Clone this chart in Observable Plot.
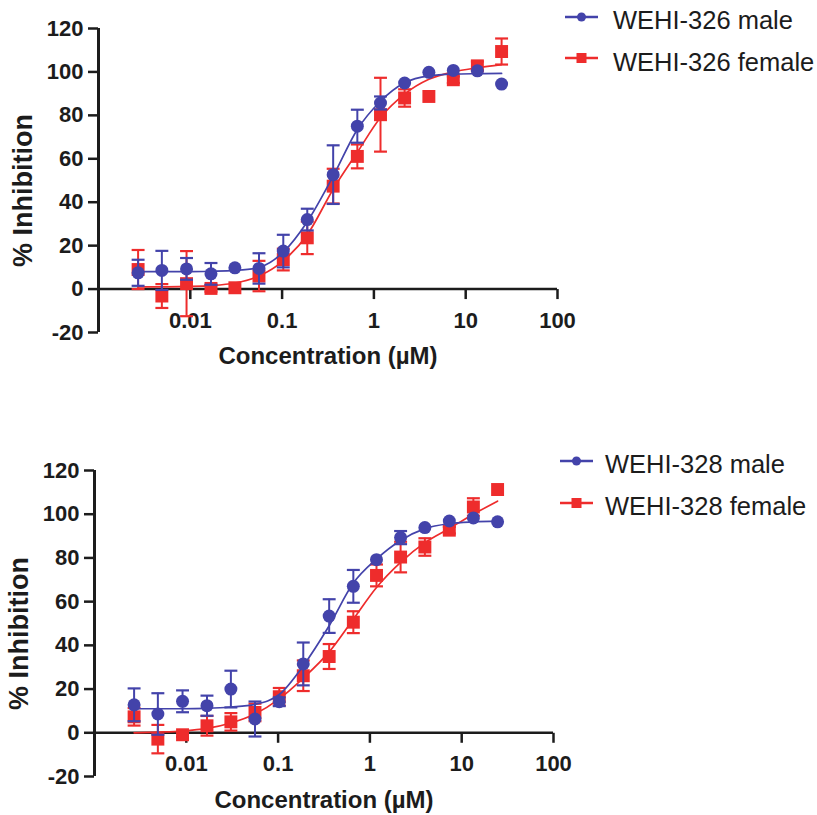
<!DOCTYPE html>
<html>
<head>
<meta charset="utf-8">
<script src="https://cdn.jsdelivr.net/npm/d3@7"></script>
<script src="https://cdn.jsdelivr.net/npm/@observablehq/plot@0.6"></script>
<style>
  body { margin: 0; background: #ffffff; }
  #root { position: relative; width: 817px; height: 815px; font-family: "Liberation Sans", Arial, sans-serif; color: #1c1c1c; }
  .chart { position: absolute; left: 0; }
  .leg { position: absolute; font-size: 25.5px; line-height: 26px; white-space: nowrap; color: #1c1c1c; }
  .sw { position: absolute; }
</style>
</head>
<body>
<div id="root"></div>
<script>
// ---- data ----
const conc = [0.0027, 0.0049, 0.0091, 0.0168, 0.0306, 0.056, 0.103, 0.188, 0.36, 0.66, 1.18, 2.16, 3.97, 7.33, 13.4, 24.6];

const xTicks = [0.01, 0.1, 1, 10, 100];
const xTickLabels = ["0.01", "0.1", "1", "10", "100"];
const yTicks = [-20, 0, 20, 40, 60, 80, 100, 120];
const yTickLabels = ["-20", "0", "20", "40", "60", "80", "100", "120"];

// Top panel: WEHI-326
const topSeriesNames = ["WEHI-326 male", "WEHI-326 female"];
const topMale = [7.5, 8.6, 9.3, 7.0, 9.8, 9.5, 17.5, 32, 52.7, 75, 85.7, 94.9, 99.8, 100.7, 100.5, 94.4];
const topMaleErr = [6, 9, 5, 5, 0, 7, 7.5, 5, 13.5, 7.6, 3, 0, 0, 0, 0, 0];
const topFemale = [9, -3.2, 2.5, 0.3, 0.6, 6, 13.6, 23.6, 47.4, 61.1, 80.3, 88, 88.7, 96.4, 102.8, 109.4];
const topFemaleErr = [9, 5.5, 15, 1.5, 0, 7, 5, 7.5, 8, 5.5, 17, 4, 0, 1.5, 2, 6];
const topMaleFit = [8, 8, 8, 8.2, 8.6, 10, 17, 31, 52, 73.5, 86.5, 95, 98.2, 99, 99.2, 99.3];
const topFemaleFit = [1, 1, 1.2, 1.6, 2.8, 6, 13, 25, 46, 63, 79, 89.8, 96.6, 100, 101.9, 103.4];

// Bottom panel: WEHI-328
const botSeriesNames = ["WEHI-328 male", "WEHI-328 female"];
const botMale = [12.8, 8.6, 14.4, 12.4, 20, 6.3, 14.2, 31.5, 53.4, 67, 79.2, 89.3, 93.9, 96.9, 98.3, 96.5];
const botMaleErr = [7.5, 9.5, 5, 4.6, 8.4, 8, 2, 9.8, 7.7, 7.5, 0, 3, 0, 0, 0, 0];
const botFemale = [7.3, -2.9, -0.9, 3.2, 5, 9.3, 16.5, 26.1, 34.9, 50.6, 72, 80.4, 85, 92.7, 103.3, 111.3];
const botFemaleErr = [4, 6.5, 1, 4.5, 4, 4, 4, 7, 5.7, 5, 5, 7, 4, 1.5, 4, 0];
const botMaleFit = [11, 11, 11, 11.2, 11.8, 13, 17.5, 30.7, 49, 68.5, 79.5, 88, 93.4, 95.7, 96.5, 96.8];
const botFemaleFit = [0, 0.3, 0.8, 2, 4.5, 8.6, 15.5, 25, 37, 52, 66.5, 78, 87, 93.5, 100, 106];

const yLabel = "% Inhibition";
const xLabel = "Concentration (µM)";

// ---- style ----
const BLUE = "#4343aa";
const RED = "#ee2c2c";
const INK = "#1c1c1c";
const FONT = "'Liberation Sans', Arial, sans-serif";

// custom symbols (pixel-sized)
const capSymbol = { draw(ctx, size) { const w = Math.sqrt(size) / 2; ctx.moveTo(-w, 0); ctx.lineTo(w, 0); } };
const downTick = { draw(ctx, size) { const L = Math.sqrt(size); ctx.moveTo(0, 0); ctx.lineTo(0, L); } };

function rows(vals, errs) {
  return conc.map((c, i) => ({ x: c, y: vals[i], e: errs[i] }));
}
function fitRows(vals) {
  return conc.map((c, i) => ({ x: c, y: vals[i] }));
}

function seriesMarks(vals, errs, fit, color, symbol, r) {
  const d = rows(vals, errs);
  const withErr = d.filter(p => p.e > 0);
  return [
    Plot.line(fitRows(fit), { x: "x", y: "y", stroke: color, strokeWidth: 1.7, curve: "monotone-x" }),
    Plot.ruleX(withErr, { x: "x", y1: p => p.y - p.e, y2: p => p.y + p.e, stroke: color, strokeWidth: 2 }),
    Plot.dot(withErr, { x: "x", y: p => p.y + p.e, symbol: capSymbol, r: 7.3, stroke: color, strokeWidth: 2.2, fill: "none" }),
    Plot.dot(withErr, { x: "x", y: p => p.y - p.e, symbol: capSymbol, r: 7.3, stroke: color, strokeWidth: 2.2, fill: "none" }),
    Plot.dot(d, { x: "x", y: "y", symbol, r, fill: color, stroke: "none" })
  ];
}

function makeChart(cfg) {
  return Plot.plot({
    width: cfg.width,
    height: cfg.height,
    marginLeft: cfg.marginLeft,
    marginRight: cfg.width - cfg.marginLeft - 459,
    marginTop: 28,
    marginBottom: 40,
    style: { fontFamily: FONT, color: INK, background: "white", overflow: "visible" },
    x: { type: "log", domain: [0.001, 100], axis: null },
    y: { domain: [-20, 120], axis: null },
    marks: [
      Plot.axisY({ ticks: yTicks, tickFormat: d => yTickLabels[yTicks.indexOf(d)], tickSize: 10, tickPadding: 5, fontSize: 22, fontWeight: "bold", strokeWidth: 2.5, label: null, stroke: INK }),
      Plot.ruleX([0.001], { y1: -20, y2: 120, stroke: INK, strokeWidth: 3 }),
      Plot.ruleY([0], { stroke: INK, strokeWidth: 2.5 }),
      Plot.dot(xTicks, { x: d => d, y: 0, symbol: downTick, r: 5.64, stroke: INK, strokeWidth: 2.5, fill: "none" }),
      Plot.text(xTicks, { x: d => d, y: 0, dy: cfg.labelDy, text: (d, i) => xTickLabels[i], fontSize: 22, fontWeight: "bold", fill: INK }),
      Plot.text([xLabel], { frameAnchor: "bottom", lineAnchor: "middle", textAnchor: "middle", dy: 24, fontSize: 24, fontWeight: "bold", fill: INK }),
      Plot.text([yLabel], { frameAnchor: "left", lineAnchor: "middle", textAnchor: "middle", dx: -75, dy: 10, rotate: -90, fontSize: 27, fontWeight: "bold", fill: INK }),
      ...seriesMarks(cfg.female, cfg.femaleErr, cfg.femaleFit, RED, "square", 7.3),
      ...seriesMarks(cfg.male, cfg.maleErr, cfg.maleFit, BLUE, "circle", 6.5)
    ]
  });
}

const root = document.getElementById("root");

const c1 = makeChart({ width: 560, height: 372, marginLeft: 98, labelDy: 32,
  male: topMale, maleErr: topMaleErr, maleFit: topMaleFit,
  female: topFemale, femaleErr: topFemaleErr, femaleFit: topFemaleFit });
c1.classList.add("chart");
c1.style.top = "0px";
root.appendChild(c1);

const c2 = makeChart({ width: 556, height: 374, marginLeft: 94, labelDy: 31,
  male: botMale, maleErr: botMaleErr, maleFit: botMaleFit,
  female: botFemale, femaleErr: botFemaleErr, femaleFit: botFemaleFit });
c2.classList.add("chart");
c2.style.top = "442px";
root.appendChild(c2);

// ---- legends ----
function swatch(color, shape) {
  const ns = "http://www.w3.org/2000/svg";
  const s = document.createElementNS(ns, "svg");
  s.setAttribute("width", "34"); s.setAttribute("height", "14");
  const l = document.createElementNS(ns, "line");
  l.setAttribute("x1", "0"); l.setAttribute("x2", "33"); l.setAttribute("y1", "7"); l.setAttribute("y2", "7");
  l.setAttribute("stroke", color); l.setAttribute("stroke-width", "2.5");
  s.appendChild(l);
  let m;
  if (shape === "circle") {
    m = document.createElementNS(ns, "circle");
    m.setAttribute("cx", "16.5"); m.setAttribute("cy", "7"); m.setAttribute("r", "4.5");
  } else {
    m = document.createElementNS(ns, "rect");
    m.setAttribute("x", "11.5"); m.setAttribute("y", "2"); m.setAttribute("width", "10"); m.setAttribute("height", "10");
  }
  m.setAttribute("fill", color);
  s.appendChild(m);
  return s;
}
function legendRow(name, color, shape, lineX, lineY, textX, textCenterY) {
  const sw = swatch(color, shape);
  sw.classList.add("sw");
  sw.style.left = lineX + "px";
  sw.style.top = (lineY - 7) + "px";
  root.appendChild(sw);
  const t = document.createElement("div");
  t.className = "leg";
  t.textContent = name;
  t.style.left = textX + "px";
  t.style.top = (textCenterY - 12.7) + "px";
  root.appendChild(t);
}
legendRow(topSeriesNames[0], BLUE, "circle", 565, 16.7, 613, 20);
legendRow(topSeriesNames[1], RED, "square", 565, 58.3, 613, 61.7);
legendRow(botSeriesNames[0], BLUE, "circle", 560, 460.7, 605, 463.3);
legendRow(botSeriesNames[1], RED, "square", 560, 503.3, 605, 505.3);
</script>
</body>
</html>
